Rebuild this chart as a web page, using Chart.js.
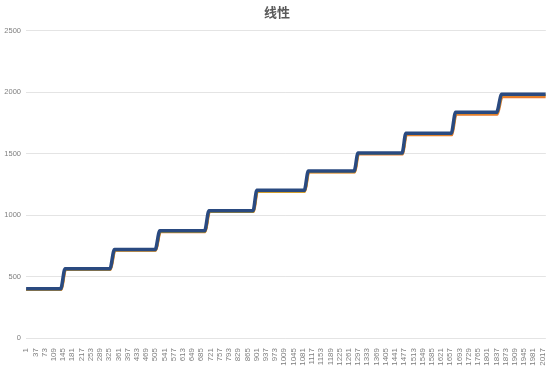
<!DOCTYPE html>
<html>
<head>
<meta charset="utf-8">
<script src="https://cdn.jsdelivr.net/npm/chart.js@4/dist/chart.umd.min.js"></script>
<style>
  html, body { margin: 0; padding: 0; background: #fff; }
  #wrap { width: 554px; height: 369px; }
</style>
</head>
<body>
<div id="wrap"><canvas id="stepChart" width="554" height="369"></canvas></div>
<script>
// chart title and axis ticks
const chartTitle = '线性';
const pointCount = 2030;
const xTicks = [1, 37, 73, 109, 145, 181, 217, 253, 289, 325, 361, 397, 433, 469, 505, 541, 577, 613, 649, 685,
  721, 757, 793, 829, 865, 901, 937, 973, 1009, 1045, 1081, 1117, 1153, 1189, 1225, 1261, 1297, 1333, 1369, 1405,
  1441, 1477, 1513, 1549, 1585, 1621, 1657, 1693, 1729, 1765, 1801, 1837, 1873, 1909, 1945, 1981, 2017];
const yTicks = [0, 500, 1000, 1500, 2000, 2500];

// where each step starts and ends (point index)
const stepStart = [136, 328, 505, 698, 887, 1087, 1282, 1469, 1661, 1838];
const stepEnd   = [153, 346, 523, 715, 902, 1103, 1297, 1484, 1678, 1858];

// plateau levels per series
const blueLevels   = [401, 563, 720, 872, 1035, 1201, 1358, 1505, 1665, 1835, 1982];
const orangeLevels = [392, 556, 712, 863, 1026, 1191, 1348, 1494, 1650, 1817, 1961];
const goldLevels   = [395, 557, 713, 864, 1027, 1192, 1350, 1499, 1660, 1830, 1977];

function stepPoints(levels, shift) {
  const pts = [{ x: 1, y: levels[0] }];
  stepStart.forEach((s, i) => {
    pts.push({ x: s + shift, y: levels[i] });
    pts.push({ x: stepEnd[i] + shift, y: levels[i + 1] });
  });
  pts.push({ x: pointCount, y: levels[levels.length - 1] });
  return pts;
}

const ds = (label, data, color, width) => ({
  label, data, borderColor: color, backgroundColor: color, borderWidth: width,
  pointRadius: 0, cubicInterpolationMode: 'monotone', fill: false
});

// first dataset is drawn on top
new Chart(document.getElementById('stepChart'), {
  type: 'line',
  data: {
    datasets: [
      ds('系列1', stepPoints(blueLevels, 0), '#2A4A80', 3.5),
      ds('系列3', stepPoints(goldLevels, 2), '#C9A11C', 2.5),
      ds('系列2', stepPoints(orangeLevels, 3), '#E8792E', 2.5)
    ]
  },
  options: {
    responsive: false, animation: false,
    layout: { padding: 0 },
    plugins: {
      legend: { display: false },
      tooltip: { enabled: false },
      title: {
        display: true, text: chartTitle, color: '#595959',
        font: { family: '"Noto Sans CJK SC", sans-serif', size: 13, weight: 'bold' },
        padding: { top: 4, bottom: 11 }
      }
    },
    scales: {
      x: {
        type: 'linear', min: 0.5, max: pointCount + 0.5,
        afterBuildTicks: s => { s.ticks = xTicks.map(v => ({ value: v })); },
        afterFit: s => { s.height = 31; },
        grid: { display: false },
        border: { display: false },
        ticks: {
          color: '#7f7f7f', autoSkip: false, minRotation: 90, maxRotation: 90, padding: 2,
          font: { family: '"Liberation Sans", sans-serif', size: 8 },
          callback: v => String(v)
        }
      },
      y: {
        min: 0, max: 2500,
        afterBuildTicks: s => { s.ticks = yTicks.map(v => ({ value: v })); },
        afterFit: s => { s.width = 26; },
        grid: { color: '#e4e4e4', drawTicks: false },
        border: { display: false },
        ticks: {
          color: '#7f7f7f', padding: 5,
          font: { family: '"Liberation Sans", sans-serif', size: 7.5 },
          callback: v => String(v)
        }
      }
    }
  }
});
</script>
</body>
</html>
